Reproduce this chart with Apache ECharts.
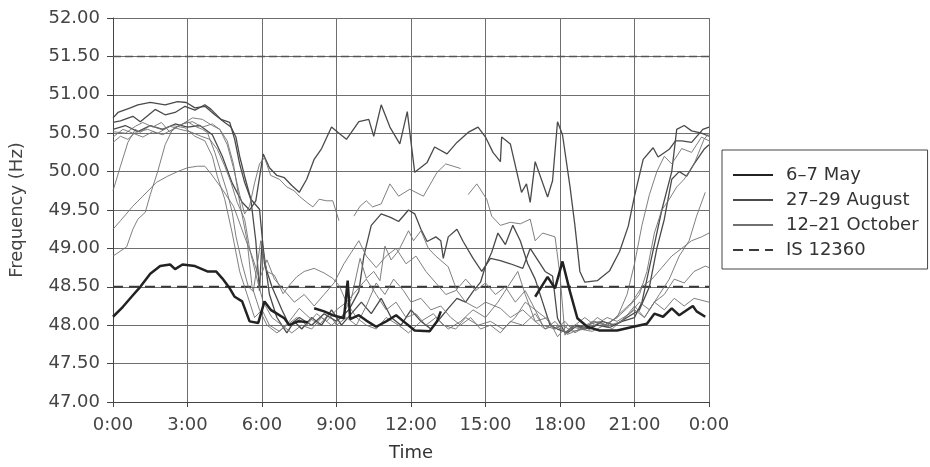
<!DOCTYPE html>
<html>
<head>
<meta charset="utf-8">
<script src="https://cdn.jsdelivr.net/npm/echarts@6/dist/echarts.min.js"></script>
<style>
html, body { margin: 0; padding: 0; background: #fff; }
#chart { width: 930px; height: 467px; }
</style>
</head>
<body>
<div id="chart"></div>
<script>
// [hour of day, frequency Hz]
var may1 = [[0,48.11],[0.4,48.24],[0.8,48.39],[1.1,48.5],[1.5,48.67],[1.9,48.77],[2.3,48.79],[2.5,48.73],[2.8,48.79],[3.3,48.77],[3.8,48.7],[4.15,48.7],[4.4,48.61],[4.7,48.48],[4.9,48.37],[5.2,48.31],[5.5,48.05],[5.85,48.03],[6.1,48.31],[6.35,48.2],[6.6,48.15],[6.9,48.09],[7.1,48.0],[7.45,48.05],[7.85,48.04]];
var may2 = [[8.1,48.22],[8.5,48.18],[8.85,48.13],[9.3,48.09],[9.45,48.58],[9.55,48.08],[9.9,48.13],[10.2,48.06],[10.6,47.98],[11.0,48.05],[11.4,48.13],[11.7,48.05],[12.15,47.93],[12.75,47.92],[13.05,48.05],[13.2,48.18]];
var may3 = [[17.0,48.37],[17.5,48.63],[17.8,48.48],[18.1,48.83],[18.4,48.44],[18.7,48.09],[19.1,47.98],[19.6,47.93],[20.3,47.93],[20.95,47.98],[21.5,48.02],[21.8,48.15],[22.15,48.11],[22.5,48.22],[22.8,48.13],[23.35,48.25],[23.5,48.18],[23.85,48.11]];

var augA = [[0,50.55],[0.5,50.6],[1.0,50.52],[1.5,50.6],[2.0,50.55],[2.5,50.62],[3.0,50.58],[3.5,50.6],[4.0,50.48],[4.4,50.2],[4.8,49.85],[5.2,49.6],[5.5,49.5],[5.75,49.62],[6.05,50.23],[6.3,50.05],[6.6,49.95],[6.9,49.92],[7.2,49.82],[7.5,49.73],[7.8,49.9],[8.1,50.16],[8.4,50.3],[8.8,50.58],[9.1,50.5],[9.4,50.42],[9.9,50.65],[10.3,50.68],[10.5,50.46],[10.8,50.87],[11.15,50.58],[11.55,50.36],[11.85,50.78],[12.15,49.99],[12.65,50.12],[12.95,50.32],[13.45,50.23],[13.85,50.38],[14.3,50.51],[14.7,50.58],[15.0,50.45],[15.3,50.25],[15.6,50.13],[15.65,50.45],[16.0,50.36],[16.45,49.73],[16.65,49.84],[16.8,49.6],[17.0,50.13],[17.5,49.67],[17.7,49.88],[17.9,50.65],[18.1,50.48],[18.4,49.81],[18.6,49.3],[18.8,48.7],[19.0,48.56],[19.5,48.58],[20.0,48.71],[20.4,48.96],[20.75,49.29],[21.0,49.68],[21.35,50.16],[21.75,50.31],[21.95,50.19],[22.4,50.29],[22.65,50.4],[22.9,50.4],[23.3,50.38],[23.75,50.55],[24,50.58]];
var augB = [[0,50.7],[0.2,50.77],[0.7,50.83],[1.0,50.87],[1.5,50.9],[2.1,50.87],[2.6,50.91],[2.95,50.9],[3.3,50.83],[3.7,50.85],[4.1,50.74],[4.5,50.64],[4.75,50.58],[4.95,50.45],[5.1,50.2],[5.3,49.94],[5.55,49.64],[5.75,49.1],[5.9,48.45],[6.0,49.1],[6.1,48.8],[6.4,48.5],[6.8,48.2],[7.1,48.0],[7.5,48.1],[8.0,48.0],[8.5,48.15],[9.0,48.05],[9.5,48.2],[9.9,48.44],[10.1,48.9],[10.4,49.3],[10.8,49.45],[11.2,49.4],[11.5,49.35],[11.9,49.5],[12.15,49.45],[12.4,49.25],[12.65,49.09],[13.0,49.15],[13.2,49.1],[13.3,48.87],[13.5,49.15],[13.85,49.25],[14.1,49.09],[14.5,48.87],[14.85,48.7],[15.2,48.87],[15.6,48.84],[16.0,48.8],[16.5,48.74],[16.8,49.0],[17.1,48.85],[17.4,48.7],[17.7,48.64],[17.9,48.09],[18.2,47.9],[18.6,48.0],[19.0,47.95],[19.5,48.0],[20.0,47.97],[20.5,48.05],[21.0,48.1],[21.3,48.3],[21.7,48.9],[22.1,49.5],[22.5,50.0],[22.7,50.55],[23.0,50.6],[23.3,50.53],[23.7,50.5],[24,50.46]];
var augC = [[0,50.64],[0.3,50.66],[0.8,50.72],[1.1,50.65],[1.7,50.81],[2.1,50.74],[2.5,50.77],[2.9,50.85],[3.3,50.8],[3.7,50.87],[3.95,50.81],[4.35,50.68],[4.7,50.64],[4.9,50.42],[5.1,50.1],[5.3,49.86],[5.55,49.64],[5.9,49.51],[6.05,49.0],[6.3,48.4],[6.6,48.1],[7.0,47.9],[7.3,48.05],[7.6,47.95],[8.0,48.1],[8.4,48.0],[8.8,48.2],[9.2,48.0],[9.6,48.15],[10.0,48.3],[10.4,48.15],[10.8,48.35],[11.2,48.1],[11.6,48.0],[12.0,48.2],[12.4,48.05],[12.8,47.95],[13.2,48.1],[13.5,48.22],[13.85,48.35],[14.2,48.3],[14.5,48.44],[14.8,48.56],[15.0,48.77],[15.25,48.95],[15.5,49.2],[15.8,49.05],[16.1,49.3],[16.4,49.1],[16.7,48.8],[17.0,48.6],[17.3,48.3],[17.6,48.0],[17.9,47.95],[18.3,47.9],[18.7,48.0],[19.2,47.95],[19.7,48.05],[20.2,48.0],[20.7,48.1],[21.2,48.2],[21.6,48.5],[21.9,49.0],[22.2,49.38],[22.5,49.9],[22.8,50.0],[23.1,49.94],[23.4,50.1],[23.8,50.29],[24,50.35]];

var octD = [[0,50.52],[0.5,50.5],[0.9,50.59],[1.2,50.64],[1.6,50.58],[1.95,50.64],[2.3,50.51],[2.6,50.59],[3.0,50.65],[3.3,50.59],[3.6,50.55],[3.8,50.51],[4.1,50.25],[4.35,49.99],[4.6,49.73],[4.8,49.47],[4.95,49.16],[5.2,48.8],[5.45,48.5],[5.65,48.44],[5.95,49.1],[6.2,48.7],[6.5,48.65],[6.85,48.41],[7.1,48.52],[7.4,48.63],[7.7,48.7],[8.1,48.74],[8.5,48.68],[8.85,48.61],[9.1,48.52],[9.4,48.3],[9.8,48.1],[10.2,48.0],[10.6,47.95],[11.0,48.1],[11.5,48.0],[11.9,47.9],[12.4,48.05],[12.9,48.15],[13.3,48.0],[13.8,47.95],[14.2,48.1],[14.7,48.0],[15.2,48.05],[15.7,47.95],[16.2,48.1],[16.6,48.3],[17.0,48.2],[17.3,48.0],[17.8,47.95],[18.2,48.05],[18.6,47.9],[19.1,48.0],[19.6,48.05],[20.1,47.95],[20.6,48.1],[21.0,48.2],[21.4,48.1],[21.8,48.3],[22.2,48.4],[22.6,48.6],[23.0,48.55],[23.4,48.7],[23.85,48.77],[24,48.75]];
var octE = [[0,50.38],[0.3,50.46],[0.6,50.42],[0.9,50.51],[1.4,50.55],[1.8,50.5],[2.3,50.59],[2.7,50.55],[3.1,50.52],[3.55,50.46],[3.9,50.42],[4.2,50.29],[4.5,50.07],[4.75,49.86],[5.0,49.6],[5.3,49.38],[5.5,49.0],[5.8,48.6],[6.05,48.3],[6.4,48.1],[6.8,48.0],[7.2,47.9],[7.6,48.0],[8.0,47.95],[8.4,48.1],[8.8,48.0],[9.2,48.1],[9.6,48.35],[9.95,48.87],[10.2,48.61],[10.5,48.7],[10.75,48.58],[10.95,49.03],[11.2,48.85],[11.5,48.97],[11.9,49.23],[12.1,49.1],[12.4,49.23],[12.7,49.0],[13.0,48.9],[13.5,48.76],[13.85,48.45],[14.2,48.3],[14.65,48.22],[15.0,48.3],[15.6,48.22],[16.0,48.1],[16.5,48.2],[17.0,48.05],[17.5,48.1],[17.9,47.85],[18.3,48.0],[18.8,47.95],[19.3,48.05],[19.8,48.0],[20.3,48.1],[20.8,48.25],[21.2,48.4],[21.5,48.7],[21.8,49.2],[22.1,49.5],[22.4,49.64],[22.7,49.8],[23.0,49.9],[23.4,50.1],[23.8,50.42],[24,50.5]];
var octF = [[0,49.75],[0.3,50.07],[0.6,50.38],[0.9,50.55],[1.1,50.51],[1.5,50.6],[1.95,50.55],[2.4,50.6],[2.9,50.57],[3.3,50.46],[3.7,50.4],[4.0,50.2],[4.2,49.94],[4.5,49.64],[4.8,49.2],[5.1,48.7],[5.4,48.4],[5.7,48.1],[6.0,48.2],[6.3,48.0],[6.7,47.92],[7.1,48.05],[7.5,48.22],[7.9,48.1],[8.3,48.0],[8.7,48.15],[9.0,48.0],[9.4,48.1],[9.8,48.0],[10.2,48.25],[10.6,48.55],[10.95,48.4],[11.3,48.6],[11.7,48.45],[12.0,48.3],[12.4,48.35],[12.8,48.2],[13.2,48.25],[13.6,48.1],[14.0,48.0],[14.4,48.1],[14.8,47.95],[15.2,48.0],[15.6,47.9],[16.0,48.05],[16.5,48.0],[17.0,48.15],[17.4,47.95],[17.8,48.05],[18.2,47.9],[18.6,48.0],[19.0,48.1],[19.4,48.0],[19.9,48.1],[20.3,48.05],[20.8,48.15],[21.2,48.3],[21.6,48.2],[22.0,48.4],[22.4,48.6],[22.8,48.9],[23.2,49.1],[23.5,49.42],[23.85,49.73]];
var octG = [[0,49.25],[0.3,49.36],[0.8,49.55],[1.2,49.68],[1.75,49.86],[2.2,49.94],[2.6,50.0],[3.0,50.05],[3.4,50.07],[3.7,50.07],[3.95,49.97],[4.4,49.77],[4.85,49.55],[5.0,49.42],[5.3,49.15],[5.6,48.9],[5.9,48.6],[6.2,48.85],[6.5,48.6],[6.9,48.45],[7.3,48.3],[7.7,48.4],[8.1,48.25],[8.5,48.4],[8.9,48.55],[9.3,48.8],[9.6,48.95],[9.9,49.1],[10.2,48.9],[10.6,48.75],[11.0,48.9],[11.4,49.0],[11.8,48.8],[12.2,48.9],[12.6,48.7],[13.0,48.55],[13.4,48.4],[13.8,48.45],[14.2,48.6],[14.6,48.45],[15.0,48.55],[15.4,48.4],[15.8,48.5],[16.2,48.3],[16.6,48.45],[17.0,48.2],[17.4,48.1],[17.8,47.95],[18.1,48.0],[18.5,47.92],[19.0,47.95],[19.5,48.1],[20.0,48.0],[20.5,48.05],[21.0,48.25],[21.4,48.1],[21.8,48.3],[22.2,48.2],[22.6,48.35],[23.0,48.25],[23.4,48.35],[24,48.3]];
var octH = [[0,48.9],[0.55,49.02],[0.8,49.25],[1.0,49.38],[1.3,49.47],[1.5,49.7],[1.8,50.0],[2.1,50.35],[2.4,50.55],[2.8,50.62],[3.2,50.7],[3.6,50.68],[4.0,50.6],[4.3,50.55],[4.6,50.4],[4.85,50.1],[5.1,49.6],[5.4,49.1],[5.6,48.5],[5.9,48.2],[6.2,48.0],[6.6,47.9],[7.0,48.0],[7.4,48.1],[7.8,48.0],[8.2,48.15],[8.6,48.05],[9.0,48.2],[9.4,48.3],[9.8,48.45],[10.2,48.6],[10.6,48.4],[11.0,48.2],[11.4,48.3],[11.8,48.1],[12.2,48.15],[12.6,48.0],[13.0,48.1],[13.5,47.95],[14.0,48.05],[14.5,48.2],[15.0,48.1],[15.5,48.3],[16.0,48.55],[16.3,48.7],[16.6,48.4],[17.0,48.05],[17.4,47.95],[17.8,48.0],[18.3,47.88],[18.8,47.95],[19.3,47.92],[19.8,48.0],[20.3,48.1],[20.7,48.4],[21.0,48.8],[21.3,49.3],[21.6,49.7],[21.9,50.0],[22.2,50.2],[22.5,50.1],[22.9,50.3],[23.3,50.25],[23.7,50.45],[24,50.4]];
var octI = [[0,50.45],[0.4,50.55],[0.8,50.5],[1.2,50.45],[1.6,50.52],[2.0,50.48],[2.4,50.55],[2.8,50.62],[3.2,50.65],[3.6,50.58],[4.0,50.62],[4.3,50.55],[4.6,50.35],[4.85,50.05],[5.1,49.7],[5.3,49.45],[5.5,49.55],[5.7,49.85],[5.9,50.1],[6.1,50.18],[6.35,49.95],[6.7,49.9],[7.0,49.8],[7.3,49.75],[7.5,49.68],[7.8,49.6],[8.05,49.54],[8.3,49.64],[8.6,49.62],[8.85,49.62],[9.1,49.36]];
var octJ = [[9.7,49.42],[9.95,49.55],[10.2,49.62],[10.45,49.54],[10.8,49.58],[11.15,49.84],[11.5,49.68],[11.95,49.77],[12.5,49.68],[13.05,49.99],[13.4,50.1],[13.7,50.07],[14.0,50.04]];
var octK = [[14.3,49.7],[14.65,49.84],[15.05,49.64],[15.25,49.42],[15.6,49.3],[16.0,49.34],[16.4,49.32],[16.8,49.38],[17.0,49.1],[17.3,49.2],[17.8,49.15],[18.0,48.65],[18.2,47.87],[18.5,48.0],[18.9,47.95],[19.4,48.05],[19.9,48.0],[20.4,48.15],[20.9,48.3],[21.3,48.5],[21.7,48.6],[22.1,48.75],[22.5,48.9],[22.9,49.0],[23.3,49.1],[23.7,49.15],[24,49.2]];

var isLow = [[0,48.5],[24,48.5]];
var isHigh = [[0,51.5],[24,51.5]];

var timeLabels = ['0:00','3:00','6:00','9:00','12:00','15:00','18:00','21:00','0:00'];
var legendNames = ['6–7 May','27–29 August','12–21 October','IS 12360'];

var font = 'DejaVu Sans';

function lineSeries(name, data, color, width, z)
{
	return {
		name: name,
		type: 'line',
		data: data,
		symbol: 'none',
		z: z,
		lineStyle: { color: color, width: width },
		itemStyle: { color: color }
	};
}

function limitSeries(data, color, width, dash)
{
	return {
		name: 'IS 12360',
		type: 'line',
		data: data,
		symbol: 'none',
		z: 3,
		lineStyle: { color: color, width: width, type: dash },
		itemStyle: { color: color }
	};
}

var series = [];
series.push(lineSeries('6–7 May', may1, '#222', 2.5, 6));
series.push(lineSeries('6–7 May', may2, '#222', 2.5, 6));
series.push(lineSeries('6–7 May', may3, '#222', 2.5, 6));
[augA, augB, augC].forEach(function(d) {
	series.push(lineSeries('27–29 August', d, '#4a4a4a', 1.3, 4));
});
[octD, octE, octF, octG, octH, octI, octJ, octK].forEach(function(d) {
	series.push(lineSeries('12–21 October', d, '#707070', 0.9, 4));
});
series.push(limitSeries(isLow, '#3a3a3a', 2, [10, 6]));
series.push(limitSeries(isHigh, '#555', 1.5, [8, 4]));

var chart = echarts.init(document.getElementById('chart'));
var option = {
	animation: false,
	backgroundColor: '#fff',
	grid: { left: 113, right: 221, top: 18, bottom: 63 },
	legend: {
		data: legendNames,
		orient: 'vertical',
		left: 722,
		top: 150,
		itemWidth: 40,
		itemHeight: 14,
		itemGap: 7,
		padding: [16, 9, 10, 10],
		borderColor: '#444',
		borderWidth: 1,
		borderRadius: 0,
		itemStyle: { opacity: 0 },
		textStyle: { fontFamily: font, fontSize: 18, color: '#333', padding: [0, 0, 0, 8] }
	},
	xAxis: {
		type: 'value',
		min: 0,
		max: 24,
		interval: 3,
		name: 'Time',
		nameLocation: 'middle',
		nameGap: 42,
		nameTextStyle: { fontFamily: font, fontSize: 18, color: '#333' },
		axisLine: { show: true, lineStyle: { color: '#444' } },
		axisTick: { show: true, length: 5, lineStyle: { color: '#444' } },
		axisLabel: {
			margin: 14,
			fontFamily: font,
			fontSize: 18,
			color: '#444',
			formatter: function(v) { return timeLabels[Math.round(v / 3)]; }
		},
		splitLine: { show: true, lineStyle: { color: '#6e6e6e', width: 1 } }
	},
	yAxis: {
		type: 'value',
		min: 47,
		max: 52,
		interval: 0.5,
		name: 'Frequency (Hz)',
		nameLocation: 'middle',
		nameGap: 87,
		nameTextStyle: { fontFamily: font, fontSize: 18, color: '#444' },
		axisLine: { show: true, lineStyle: { color: '#444' } },
		axisTick: { show: true, length: 6, lineStyle: { color: '#444' } },
		axisLabel: {
			margin: 13,
			fontFamily: font,
			fontSize: 18,
			color: '#444',
			formatter: function(v) { return v.toFixed(2); }
		},
		splitLine: { show: true, lineStyle: { color: '#6e6e6e', width: 1 } }
	},
	series: series
};
chart.setOption(option);
</script>
</body>
</html>
